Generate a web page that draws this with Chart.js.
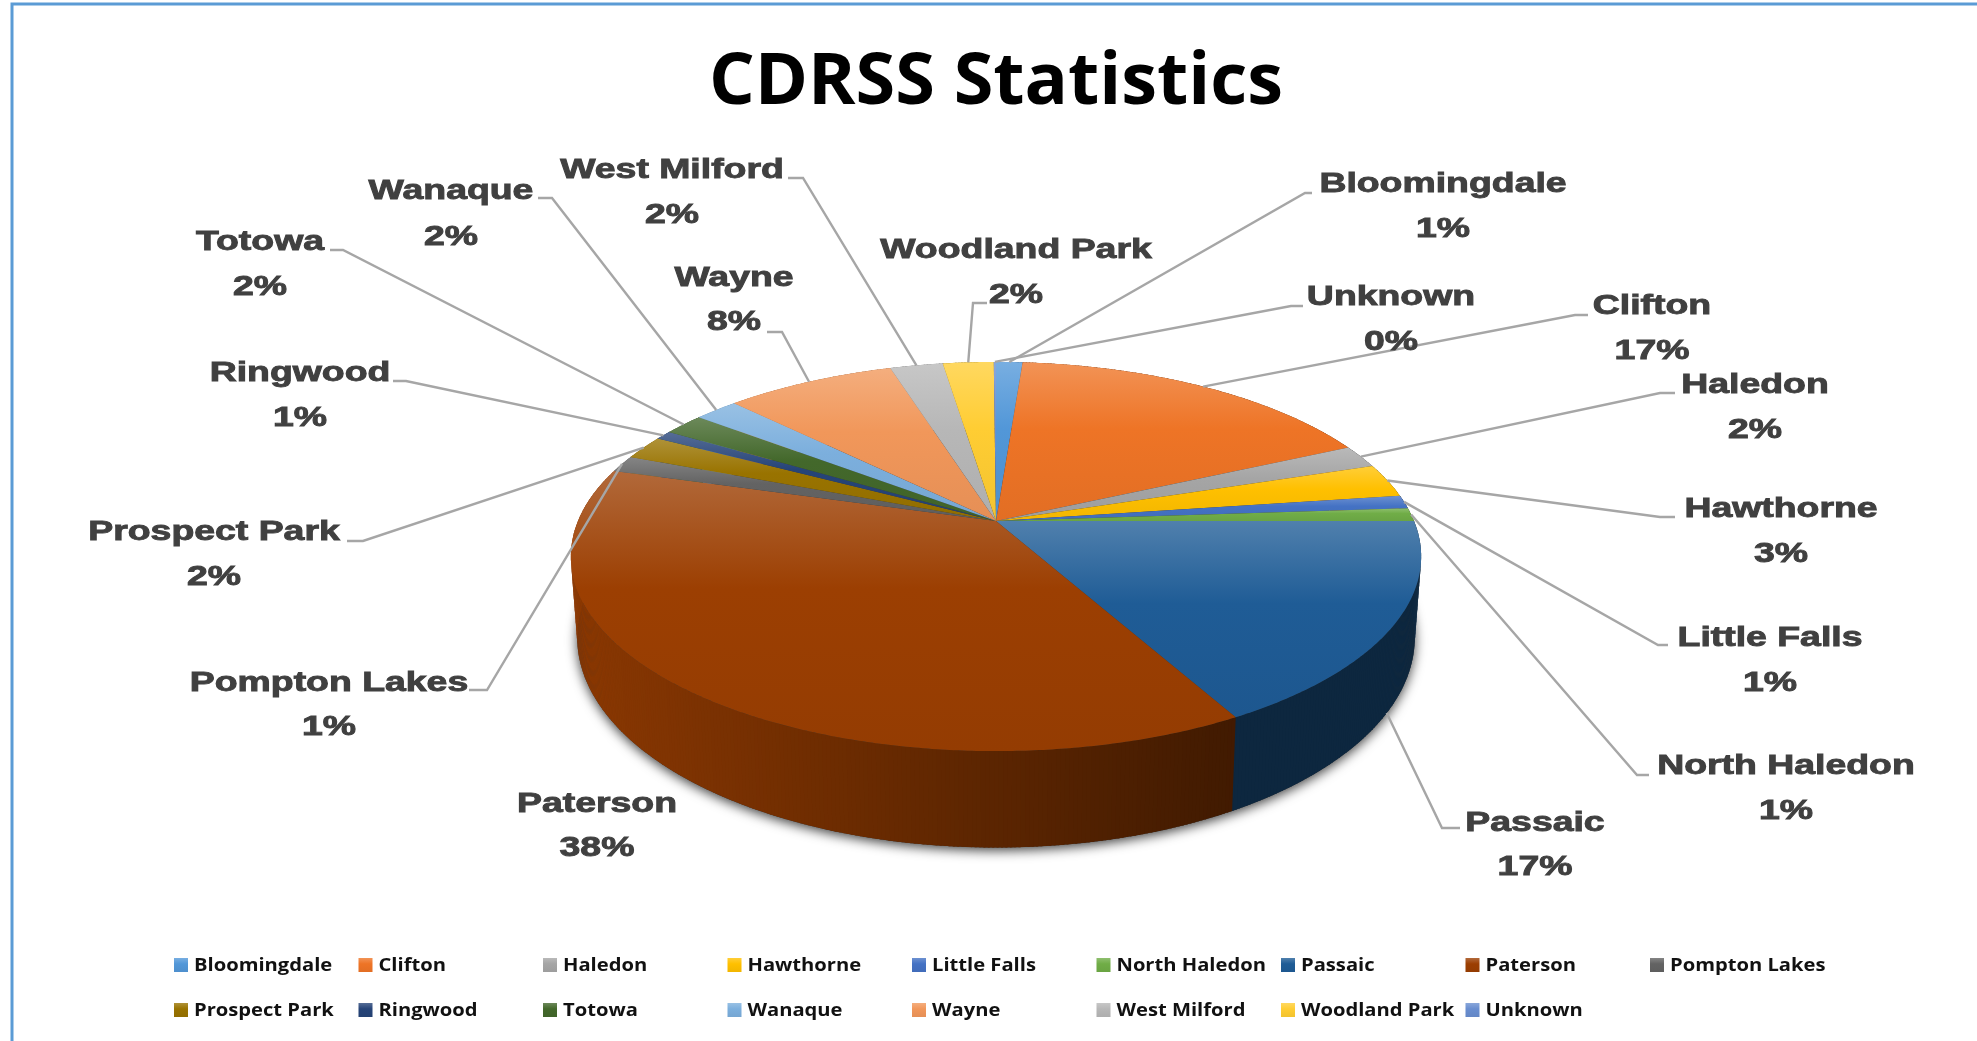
<!DOCTYPE html>
<html>
<head>
<meta charset="utf-8">
<title>CDRSS Statistics</title>
<script src="https://cdn.jsdelivr.net/npm/chart.js@4"></script>
<style>
  html, body { margin: 0; padding: 0; background: #fff; overflow: hidden; }
  canvas { display: block; }
</style>
</head>
<body>
<canvas id="pieChart" width="1977" height="1041"></canvas>
<script>
const TOWNS = [
  "Bloomingdale", "Clifton", "Haledon", "Hawthorne", "Little Falls", "North Haledon",
  "Passaic", "Paterson", "Pompton Lakes", "Prospect Park", "Ringwood", "Totowa",
  "Wanaque", "Wayne", "West Milford", "Woodland Park", "Unknown",
];
const SHARES = [1.2, 16.9, 1.9, 2.8, 1.1, 1.1, 17, 37.5, 1.4, 2, 0.75, 1.85, 2, 7.7, 2.4, 2.3, 0.1];
const COLORS = [
  "#5297d8", "#ee7426", "#a5a5a5", "#ffc000", "#4472c4", "#70ad47",
  "#1f5c96", "#9c3f02", "#636363", "#997300", "#264478", "#43682b",
  "#7cafdd", "#f1975a", "#b7b7b7", "#ffcd33", "#698ed0",
];

// where each data label sits: [center x, name y, percent y], then the elbow of its leader
const LABEL_SPOTS = [
  [1443, 182, 227], [1652, 304, 349], [1755, 383, 428], [1781, 507, 552], [1770, 636, 681], [1786, 764, 809],
  [1535, 821, 865], [597, 802, 846], [329, 681, 725], [214, 530, 575], [300, 371, 416], [260, 240, 285],
  [451, 189, 235], [734, 276, 320], [672, 168, 213], [1016, 248, 293], [1391, 295, 340],
];
const LEADER_STUBS = [
  [1312, 193, 1305, 193], [1588, 315, 1575, 315], [1675, 393, 1660, 393], [1675, 517, 1660, 517], [1668, 645, 1658, 645], [1649, 775, 1637, 775],
  [1460, 828, 1442, 828], null, [469, 690, 487, 690], [347, 541, 363, 541], [393, 381, 406, 381], [330, 250, 343, 250],
  [538, 198, 552, 198], [767, 332, 782, 332], [788, 178, 803, 178], [987, 303, 973, 303], [1303, 306, 1291, 306],
];

const TILT = 0.45;
const PERSPECTIVE = 0.1825;
const WALL_DROP = 78;
const WALL_SX = 0.985;
const WALL_SY = 1.08;
const STEP = Math.PI / 180;

function rimPoint(arc, theta, bottom) {
  const w = 1 - PERSPECTIVE * Math.sin(theta);
  const x = (arc.outerRadius * Math.cos(theta)) / w;
  const y = (arc.outerRadius * TILT * Math.sin(theta)) / w;
  if (bottom) return { x: arc.x + x * WALL_SX, y: arc.y + y * WALL_SY + WALL_DROP };
  return { x: arc.x + x, y: arc.y + y };
}

function mixColor(hex, factor, white) {
  const n = parseInt(hex.slice(1), 16);
  const ch = [(n >> 16) & 255, (n >> 8) & 255, n & 255].map((c) => Math.round(c * factor + 255 * white));
  return `rgb(${ch[0]}, ${ch[1]}, ${ch[2]})`;
}

function wallFactor(t) {
  if (t > 0.78) return 0.42;
  return 0.88 - (0.46 * t) / 0.78;
}

function faceGradient(ctx, color, y0, y1) {
  const g = ctx.createLinearGradient(0, y0, 0, y1);
  g.addColorStop(0, mixColor(color, 0.78, 0.22));
  g.addColorStop(0.42, color);
  g.addColorStop(1, mixColor(color, 0.95, 0));
  return g;
}

function stretchedText(ctx, text, x, y, sx, heavy) {
  ctx.save();
  ctx.translate(x, y);
  ctx.scale(sx, 1);
  ctx.fillText(text, 0, 0);
  if (heavy) {
    ctx.strokeStyle = ctx.fillStyle;
    ctx.lineWidth = heavy;
    ctx.strokeText(text, 0, 0);
  }
  ctx.restore();
}

function drawPie3d(chart) {
  const ctx = chart.ctx;
  const arcs = chart.getDatasetMeta(0).data;
  const colors = chart.data.datasets[0].backgroundColor;
  const first = arcs[0];

  // soft shadow under the whole pie
  ctx.save();
  ctx.shadowColor = "rgba(0, 0, 0, 0.75)";
  ctx.shadowBlur = 12;
  ctx.shadowOffsetY = 3;
  ctx.fillStyle = "#333";
  ctx.beginPath();
  for (let t = 0; t < Math.PI * 2; t += STEP) {
    const p = rimPoint(first, t, true);
    ctx.lineTo(p.x, p.y);
  }
  ctx.closePath();
  ctx.fill();
  ctx.restore();

  const left = first.x - first.outerRadius;
  const span = first.outerRadius * 2;
  arcs.forEach((arc, i) => {
    for (let t = arc.startAngle; t < arc.endAngle; t += STEP / 2) {
      const t2 = Math.min(t + STEP / 2, arc.endAngle) + 0.004;
      const a = rimPoint(arc, t, false);
      const b = rimPoint(arc, t2, false);
      const c = rimPoint(arc, t2, true);
      const d = rimPoint(arc, t, true);
      ctx.fillStyle = mixColor(colors[i], wallFactor((a.x - left) / span), 0);
      ctx.beginPath();
      ctx.moveTo(a.x, a.y);
      ctx.lineTo(b.x, b.y);
      ctx.lineTo(c.x, c.y);
      ctx.lineTo(d.x, d.y);
      ctx.closePath();
      ctx.fill();
    }
  });

  arcs.forEach((arc, i) => {
    const pts = [{ x: arc.x, y: arc.y }];
    for (let t = arc.startAngle; t < arc.endAngle; t += STEP / 2) pts.push(rimPoint(arc, t, false));
    pts.push(rimPoint(arc, arc.endAngle, false));
    const ys = pts.map((p) => p.y);
    ctx.fillStyle = faceGradient(ctx, colors[i], Math.min(...ys), Math.max(...ys));
    ctx.beginPath();
    pts.forEach((p) => ctx.lineTo(p.x, p.y));
    ctx.closePath();
    ctx.fill();
  });
}

function drawDataLabels(chart) {
  const ctx = chart.ctx;
  const arcs = chart.getDatasetMeta(0).data;
  const total = SHARES.reduce((s, v) => s + v, 0);

  ctx.save();
  ctx.strokeStyle = "#a6a6a6";
  ctx.lineWidth = 2.4;
  arcs.forEach((arc, i) => {
    const stub = LEADER_STUBS[i];
    if (!stub) return;
    const mid = (arc.startAngle + arc.endAngle) / 2;
    // slices facing the viewer get their leader on the wall's lower edge
    const end = rimPoint(arc, mid, Math.sin(mid) > 0);
    ctx.beginPath();
    ctx.moveTo(stub[0], stub[1]);
    ctx.lineTo(stub[2], stub[3]);
    ctx.lineTo(end.x, end.y);
    ctx.stroke();
  });

  ctx.fillStyle = "#404040";
  ctx.font = "bold 27px 'Liberation Sans'";
  ctx.textAlign = "center";
  ctx.textBaseline = "middle";
  TOWNS.forEach((town, i) => {
    const spot = LABEL_SPOTS[i];
    stretchedText(ctx, town, spot[0], spot[1] + 2.5, 1.385, 0.9);
    stretchedText(ctx, `${Math.round((SHARES[i] / total) * 100)}%`, spot[0], spot[2] + 2.5, 1.385, 0.9);
  });
  ctx.restore();
}

function drawLegend(chart) {
  const ctx = chart.ctx;
  const colors = chart.data.datasets[0].backgroundColor;
  ctx.save();
  ctx.font = "bold 18px 'Open Sans'";
  ctx.textAlign = "left";
  ctx.textBaseline = "middle";
  TOWNS.forEach((town, i) => {
    const col = i % 9;
    const x = 174 + col * 184.5;
    const y = i < 9 ? 965 : 1010;
    ctx.fillStyle = faceGradient(ctx, colors[i], y - 7, y + 7);
    ctx.fillRect(x, y - 7, 14, 14);
    ctx.fillStyle = "#111";
    stretchedText(ctx, town, x + 20, y + 1, 1.12);
  });
  ctx.restore();
}

const pie3dPlugin = {
  id: "pie3d",
  beforeDraw(chart) {
    const ctx = chart.ctx;
    ctx.save();
    ctx.fillStyle = "#fff";
    ctx.fillRect(0, 0, chart.width, chart.height);
    ctx.strokeStyle = "#5b9bd5";
    ctx.lineWidth = 3;
    ctx.beginPath();
    ctx.moveTo(12, chart.height);
    ctx.lineTo(12, 4);
    ctx.lineTo(chart.width, 4);
    ctx.stroke();
    ctx.restore();
  },
  beforeDatasetsDraw(chart) {
    drawPie3d(chart);
    return false;
  },
  afterDraw(chart) {
    drawDataLabels(chart);
    drawLegend(chart);
  },
};

new Chart(document.getElementById("pieChart"), {
  type: "pie",
  data: {
    labels: TOWNS,
    datasets: [{ data: SHARES, backgroundColor: COLORS, borderWidth: 0 }],
  },
  options: {
    responsive: false,
    animation: false,
    layout: { padding: { left: 578, right: 563, top: 0, bottom: 102 } },
    plugins: {
      legend: { display: false },
      tooltip: { enabled: false },
      title: {
        display: true,
        text: "CDRSS Statistics",
        color: "#000",
        font: { family: "'Open Sans'", size: 72, weight: "bold", lineHeight: 1 },
        padding: { top: 47, bottom: -16 },
      },
    },
  },
  plugins: [pie3dPlugin],
});
</script>
</body>
</html>
